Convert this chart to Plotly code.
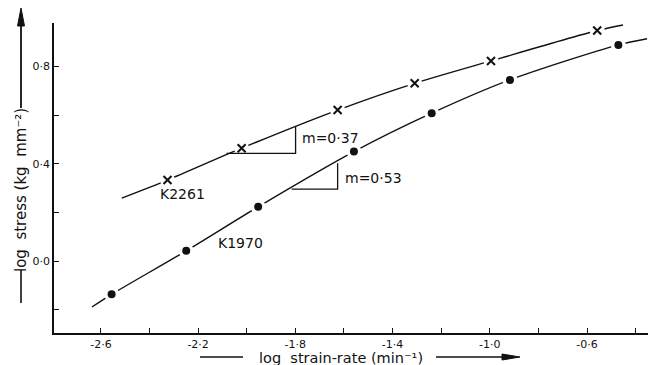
import plotly.graph_objects as go

# ---- data ----
k2261_x = [-2.326, -2.021, -1.626, -1.309, -0.995, -0.558]
k2261_y = [0.333, 0.464, 0.621, 0.731, 0.823, 0.948]

k1970_x = [-2.556, -2.249, -1.953, -1.559, -1.239, -0.917, -0.471]
k1970_y = [-0.137, 0.042, 0.223, 0.450, 0.608, 0.745, 0.889]

# fitted curves (hand-drawn lines), extended past the end points
curve2261_x = [-2.514] + k2261_x + [-0.452]
curve2261_y = [0.259] + k2261_y + [0.971]
curve1970_x = [-2.637] + k1970_x + [-0.353]
curve1970_y = [-0.189] + k1970_y + [0.914]

# slope triangles
tri37_x = [-2.083, -1.799, -1.799]
tri37_y = [0.443, 0.443, 0.553]
tri53_x = [-1.815, -1.626, -1.626]
tri53_y = [0.296, 0.296, 0.402]

x_ticks = [-2.6, -2.2, -1.8, -1.4, -1.0, -0.6]
x_ticktext = ["-2·6", "-2·2", "-1·8", "-1·4", "-1·0", "-0·6"]
y_ticks = [0.0, 0.4, 0.8]
y_ticktext = ["0·0", "0·4", "0·8"]

FONT = "DejaVu Sans"
BLACK = "#111111"

# plot area in pixels (for layout decorations outside the axes)
L, T, W, H = 54, 23, 594, 310


def px(x):
    return (x - L) / W


def py(y):
    return (T + H - y) / H


fig = go.Figure()

for cx, cy in [(curve2261_x, curve2261_y), (curve1970_x, curve1970_y)]:
    fig.add_trace(go.Scatter(x=cx, y=cy, mode="lines",
                             line=dict(color=BLACK, width=1.4, shape="spline", smoothing=0.8),
                             hoverinfo="skip", showlegend=False))

# white halos to create the gaps in the lines around each marker
for mx, my in [(k2261_x, k2261_y), (k1970_x, k1970_y)]:
    fig.add_trace(go.Scatter(x=mx, y=my, mode="markers",
                             marker=dict(symbol="circle", size=15, color="white"),
                             hoverinfo="skip", showlegend=False))

for tx, ty in [(tri37_x, tri37_y), (tri53_x, tri53_y)]:
    fig.add_trace(go.Scatter(x=tx, y=ty, mode="lines",
                             line=dict(color=BLACK, width=1.3),
                             hoverinfo="skip", showlegend=False))

fig.add_trace(go.Scatter(x=k2261_x, y=k2261_y, mode="markers", name="K2261",
                         marker=dict(symbol="x-thin", size=8,
                                     line=dict(color=BLACK, width=2)),
                         showlegend=False))
fig.add_trace(go.Scatter(x=k1970_x, y=k1970_y, mode="markers", name="K1970",
                         marker=dict(symbol="circle", size=8, color=BLACK),
                         showlegend=False))

fig.add_annotation(x=-2.263, y=0.276, text="K2261", showarrow=False,
                   font=dict(family=FONT, size=14, color=BLACK))
fig.add_annotation(x=-2.024, y=0.074, text="K1970", showarrow=False,
                   font=dict(family=FONT, size=14, color=BLACK))
fig.add_annotation(x=-1.781, y=0.506, text="m=0·37", showarrow=False, xanchor="left",
                   font=dict(family=FONT, size=14, color=BLACK))
fig.add_annotation(x=-1.604, y=0.342, text="m=0·53", showarrow=False, xanchor="left",
                   font=dict(family=FONT, size=14, color=BLACK))

# x-axis title with its lines / arrow
fig.add_annotation(xref="paper", yref="paper", x=px(341), y=py(357.5),
                   xanchor="center", yanchor="middle", borderpad=0,
                   text="log  strain-rate (min⁻¹)", showarrow=False,
                   font=dict(family=FONT, size=14.5, color=BLACK))
line_style = dict(color=BLACK, width=1.4)
fig.add_shape(type="line", xref="paper", yref="paper", x0=px(200), x1=px(243),
              y0=py(357), y1=py(357), line=line_style)
fig.add_shape(type="line", xref="paper", yref="paper", x0=px(436), x1=px(508),
              y0=py(357), y1=py(357), line=line_style)
fig.add_shape(type="path", xref="paper", yref="paper",
              path=f"M {px(520)},{py(357)} L {px(502)},{py(354)} L {px(502)},{py(360)} Z",
              fillcolor=BLACK, line=dict(color=BLACK, width=1))

# y-axis title with its lines / arrow
fig.add_annotation(xref="paper", yref="paper", x=px(21), y=py(190),
                   xanchor="center", yanchor="middle",
                   text="log  stress (kg  mm⁻²)", showarrow=False, textangle=-90,
                   font=dict(family=FONT, size=15, color=BLACK))
fig.add_shape(type="line", xref="paper", yref="paper", x0=px(21), x1=px(21),
              y0=py(270), y1=py(303), line=dict(color=BLACK, width=1.6))
fig.add_shape(type="line", xref="paper", yref="paper", x0=px(21), x1=px(21),
              y0=py(108), y1=py(22), line=dict(color=BLACK, width=1.8))
fig.add_shape(type="path", xref="paper", yref="paper",
              path=f"M {px(21)},{py(8)} L {px(17.5)},{py(26)} L {px(24.5)},{py(26)} Z",
              fillcolor=BLACK, line=dict(color=BLACK, width=1))

axis_common = dict(ticks="inside", ticklen=5, tickwidth=1.3, tickcolor=BLACK,
                   showline=True, linecolor=BLACK, linewidth=1.6, showgrid=False,
                   zeroline=False, tickfont=dict(family=FONT, size=11, color=BLACK),
                   minor=dict(ticks="inside", ticklen=5, tickwidth=1.3,
                              tickcolor=BLACK, dtick=0.2, tick0=0, showgrid=False))
fig.update_xaxes(range=[-2.793, -0.349], tickvals=x_ticks, ticktext=x_ticktext,
                 **axis_common)
fig.update_yaxes(range=[-0.296, 0.979], tickvals=y_ticks, ticktext=y_ticktext,
                 **axis_common)

fig.update_layout(width=650, height=365, margin=dict(l=L, r=650 - L - W, t=T, b=365 - T - H),
                  plot_bgcolor="white", paper_bgcolor="white", showlegend=False)

fig.write_html("out.html", config={"displayModeBar": False},
               post_script="document.body.style.margin='0';document.body.style.overflow='hidden';")
